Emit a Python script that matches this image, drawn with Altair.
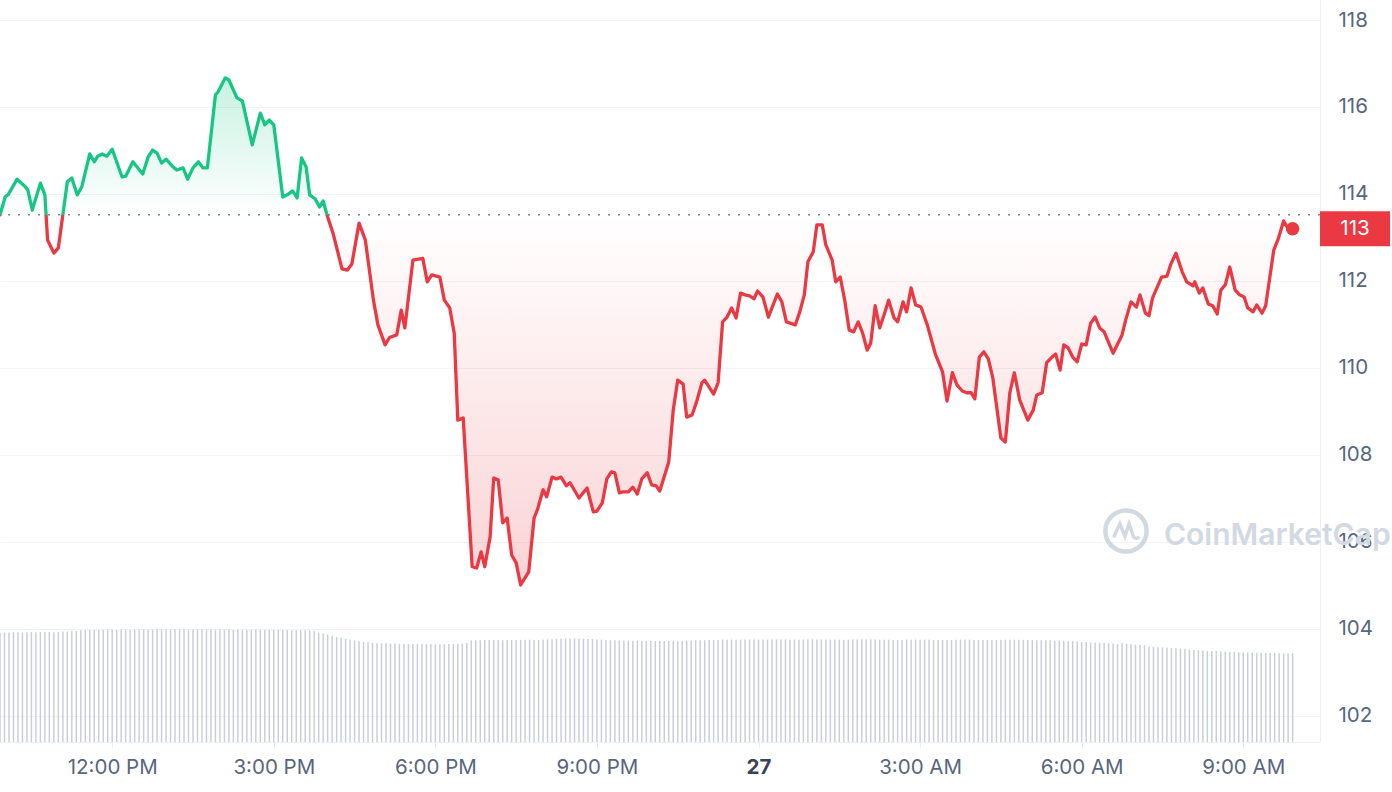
import altair as alt
import pandas as pd

# ---------------- data ----------------
# time = minutes after midnight of the 26th (595 = 9:55 AM, 1440 = midnight "27")
price_minutes = [
    595, 601, 604, 614, 623, 626, 631, 640, 645, 648, 655, 660, 670, 675, 681, 686,
    695, 700, 704, 709, 714, 720, 731, 735, 743, 754, 760, 765, 770, 775, 780, 787,
    792, 799, 804, 810, 816, 821, 826, 835, 838, 846, 850, 859, 865, 876, 885, 890,
    895, 900, 910, 915, 921, 926, 931, 936, 940, 946, 951, 955, 960, 966, 976, 982,
    987, 995, 1002, 1011, 1016, 1024, 1029, 1037, 1042, 1046, 1055, 1066, 1071, 1076,
    1085, 1090, 1096, 1101, 1105, 1111, 1121, 1126, 1131, 1135, 1141, 1145, 1150,
    1155, 1160, 1165, 1170, 1175, 1184, 1190, 1194, 1200, 1204, 1210, 1215, 1220,
    1226, 1230, 1240, 1249, 1256, 1260, 1266, 1271, 1276, 1280, 1285, 1289, 1295,
    1300, 1305, 1310, 1316, 1321, 1326, 1330, 1340, 1345, 1350, 1356, 1360, 1366,
    1371, 1377, 1380, 1385, 1390, 1395, 1400, 1405, 1410, 1415, 1420, 1425, 1430,
    1435, 1439, 1445, 1451, 1461, 1466, 1471, 1481, 1486, 1491, 1495, 1501, 1505,
    1511, 1515, 1522, 1526, 1531, 1536, 1541, 1546, 1551, 1556, 1561, 1565, 1570,
    1575, 1581, 1585, 1591, 1595, 1601, 1605, 1610, 1615, 1621, 1628, 1637, 1645,
    1650, 1656, 1661, 1667, 1672, 1677, 1681, 1686, 1691, 1696, 1701, 1710, 1715,
    1720, 1725, 1731, 1740, 1746, 1750, 1756, 1761, 1767, 1771, 1776, 1780, 1785,
    1790, 1795, 1800, 1805, 1810, 1815, 1820, 1825, 1835, 1845, 1849, 1855, 1861,
    1865, 1871, 1875, 1879, 1889, 1895, 1899, 1905, 1912, 1917, 1924, 1926, 1931,
    1935, 1941, 1946, 1951, 1955, 1960, 1965, 1971, 1976, 1981, 1985, 1991, 1995,
    2001, 2005, 2014, 2019, 2025, 2030, 2035,
]
prices = [
    113.52, 113.94, 113.98, 114.34, 114.17, 114.09, 113.63, 114.25, 113.98, 112.94, 112.64, 112.76, 114.28, 114.37, 113.98, 114.16,
    114.92, 114.74, 114.87, 114.92, 114.87, 115.03, 114.39, 114.41, 114.74, 114.46, 114.85, 115.01, 114.94, 114.71, 114.80, 114.64,
    114.55, 114.60, 114.34, 114.60, 114.74, 114.60, 114.60, 116.28, 116.35, 116.67, 116.62, 116.21, 116.14, 115.13, 115.86, 115.59,
    115.70, 115.59, 113.93, 113.98, 114.07, 113.91, 114.83, 114.62, 113.98, 113.89, 113.70, 113.84, 113.47, 113.10, 112.28, 112.25,
    112.39, 113.33, 112.94, 111.56, 110.99, 110.53, 110.70, 110.76, 111.33, 110.92, 112.48, 112.52, 111.98, 112.14,
    112.09, 111.56, 111.38, 110.80, 108.80, 108.85, 105.43, 105.40, 105.77, 105.43, 106.11, 107.47, 107.43,
    106.44, 106.55, 105.70, 105.52, 105.01, 105.31, 106.55, 106.76, 107.20, 107.04, 107.49, 107.45, 107.49,
    107.29, 107.36, 107.01, 107.24, 106.69, 106.71, 106.90, 107.45, 107.61, 107.59, 107.13, 107.15, 107.15,
    107.26, 107.10, 107.45, 107.59, 107.31, 107.29, 107.17, 107.84, 109.03, 109.72, 109.63, 108.87, 108.92,
    109.22, 109.66, 109.72, 109.56, 109.40, 109.66, 111.06, 111.17, 111.38, 111.15, 111.72, 111.68, 111.66,
    111.59, 111.77, 111.63, 111.17, 111.70, 111.52, 111.06, 110.99, 111.29, 111.68, 112.44, 112.67, 113.29,
    113.29, 112.83, 112.48, 111.98, 112.09, 111.56, 110.87, 110.83, 111.06, 110.80, 110.41, 110.57, 111.43,
    110.92, 111.29, 111.56, 111.15, 111.06, 111.52, 111.29, 111.84, 111.45, 111.40, 110.99, 110.32, 109.91,
    109.24, 109.89, 109.61, 109.47, 109.43, 109.43, 109.29, 110.25, 110.37, 110.21, 109.77, 108.39, 108.30,
    109.43, 109.89, 109.26, 108.80, 109.03, 109.38, 109.43, 110.12, 110.25, 110.32, 109.95, 110.53, 110.46,
    110.25, 110.14, 110.55, 110.53, 111.03, 111.17, 110.92, 110.83, 110.34, 110.76, 111.10, 111.52, 111.40,
    111.68, 111.26, 111.20, 111.61, 112.09, 112.11, 112.37, 112.64, 112.21, 111.98, 111.89, 111.98, 111.72,
    111.84, 111.47, 111.43, 111.24, 111.79, 111.91, 112.32, 111.79, 111.68, 111.63, 111.38, 111.29, 111.45,
    111.26, 111.43, 112.71, 112.97, 113.38, 113.20, 113.20,
]
# 5-minute volume bars (relative units), first bar at 9:55 AM
volume_start = 595
volume_step = 5
volumes = [
    4.20, 4.21, 4.21, 4.22, 4.22, 4.21, 4.22, 4.23, 4.22, 4.22, 4.23, 4.23, 4.22, 4.23, 4.24, 4.24, 4.25, 4.27,
    4.29, 4.30, 4.31, 4.31, 4.30, 4.31, 4.32, 4.31, 4.31, 4.32, 4.32, 4.31, 4.32, 4.32, 4.33, 4.32, 4.32, 4.33,
    4.33, 4.32, 4.32, 4.33, 4.33, 4.33, 4.32, 4.32, 4.33, 4.33, 4.32, 4.32, 4.32, 4.33, 4.32, 4.32, 4.31, 4.32,
    4.32, 4.31, 4.31, 4.32, 4.31, 4.31, 4.30, 4.30, 4.31, 4.30, 4.30, 4.29, 4.29, 4.30, 4.29, 4.28,
    4.25, 4.21, 4.17, 4.13,
    4.08, 4.04, 4.00, 3.96, 3.93, 3.90, 3.87, 3.85, 3.83,
    3.81, 3.80, 3.79, 3.79, 3.78, 3.78, 3.77, 3.77, 3.77, 3.76, 3.76, 3.76, 3.76, 3.75, 3.75, 3.75, 3.75, 3.76,
    3.76, 3.77, 3.78, 3.80,
    3.90, 3.91, 3.91, 3.92, 3.92, 3.92, 3.92, 3.91, 3.92, 3.92, 3.92, 3.92, 3.93, 3.93, 3.92, 3.92, 3.93, 3.94,
    3.95, 3.96,
    3.97, 3.98, 3.98, 3.98, 3.98, 3.97, 3.96, 3.95, 3.94,
    3.93, 3.92, 3.91, 3.91, 3.90, 3.90, 3.90, 3.89, 3.89, 3.89, 3.89, 3.88, 3.88, 3.88, 3.88, 3.88, 3.89, 3.89,
    3.89, 3.90, 3.90, 3.91,
    3.91, 3.91, 3.92, 3.92, 3.92, 3.93, 3.93, 3.93, 3.93, 3.93,
    3.94, 3.94, 3.94, 3.93, 3.93, 3.93, 3.94, 3.94, 3.94, 3.94,
    3.93, 3.93, 3.93, 3.93, 3.94, 3.94, 3.94, 3.94, 3.94, 3.93,
    3.93, 3.93, 3.93, 3.93, 3.94, 3.94, 3.94, 3.94, 3.94, 3.94,
    3.93, 3.93, 3.93, 3.92, 3.92, 3.92, 3.93, 3.93, 3.93, 3.93,
    3.93, 3.93, 3.92, 3.92, 3.92, 3.92, 3.92, 3.93, 3.93, 3.93,
    3.93, 3.92, 3.92, 3.92, 3.92, 3.92, 3.92, 3.92, 3.93, 3.93,
    3.93, 3.93, 3.92, 3.92, 3.92, 3.91, 3.91, 3.91, 3.91, 3.90,
    3.90, 3.89, 3.88, 3.87, 3.86, 3.85, 3.84, 3.83, 3.82, 3.81,
    3.80, 3.79, 3.78, 3.77,
    3.80, 3.78, 3.76, 3.74, 3.73, 3.72,
    3.68, 3.66, 3.64, 3.63, 3.62, 3.61, 3.60, 3.59, 3.58,
    3.55, 3.53, 3.52, 3.51, 3.50, 3.50, 3.49, 3.48, 3.47, 3.46, 3.46,
    3.45, 3.44, 3.44, 3.43, 3.43, 3.42, 3.42, 3.42, 3.42, 3.41, 3.41, 3.41, 3.41,
]
x_tick_values = [720, 900, 1080, 1260, 1440, 1620, 1800, 1980]
x_tick_labels = ["12:00 PM", "3:00 PM", "6:00 PM", "9:00 PM", "27", "3:00 AM", "6:00 AM", "9:00 AM"]
y_tick_values = [102, 104, 106, 108, 110, 112, 114, 116, 118]
watermark = "CoinMarketCap"

# ---------------- styling ----------------
GREEN = "#16c784"
RED = "#ea3943"
LABEL = "#58667e"
FONT = "Inter"
W, H = 1320, 742

base = prices[0]
pmax, pmin = max(prices), min(prices)
f = (pmax - base) / (pmax - pmin)

pdf = pd.DataFrame({"t": price_minutes, "p": prices, "base": [base] * len(prices)})
vdf = pd.DataFrame({"t": [volume_start + volume_step * i for i in range(len(volumes))], "v": volumes})
last = pdf.tail(1)

xs = alt.Scale(domain=[595, 2065.5], nice=False, zero=False)
ys = alt.Scale(domain=[101.4, 118.46], nice=False, zero=False)
vs = alt.Scale(domain=[0, 28.5], nice=False, zero=True)

label_expr = " : ".join(
    f"datum.value == {v} ? '{l}'" for v, l in zip(x_tick_values, x_tick_labels)
) + " : ''"

xaxis = alt.Axis(
    values=x_tick_values, labelExpr=label_expr, title=None, grid=False,
    domainColor="#eef0f3", tickColor="#e6e9ee", tickSize=5, labelPadding=10,
    labelFont=FONT, labelFontSize=20.5, labelColor=alt.condition("datum.value == 1440", alt.value("#3b4454"), alt.value(LABEL)),
    labelFontWeight=alt.condition("datum.value == 1440", alt.value("bold"), alt.value("normal")),
    labelFlush=False, labelOverlap=False,
)
yaxis = alt.Axis(
    orient="right", values=y_tick_values, title=None, grid=True, gridColor="#f2f3f5",
    gridWidth=1, domainColor="#eef0f3", ticks=False, tickSize=0, labelPadding=18,
    labelFont=FONT, labelFontSize=20.5, labelColor=LABEL, labelAlign="left",
    labelBaseline="middle", labelFlush=False, labelOverlap=False,
)

X = alt.X("t:Q", scale=xs, axis=xaxis)

vol = alt.Chart(vdf).mark_rule(strokeWidth=1.5, color="#c9cfda").encode(
    x=X, y=alt.Y("v:Q", scale=vs, axis=None), y2=alt.datum(0)
)

area = alt.Chart(pdf).mark_area(
    fill={
        "gradient": "linear", "x1": 0, "x2": 0, "y1": 0, "y2": 1,
        "stops": [
            {"offset": 0, "color": "rgba(22,199,132,0.24)"},
            {"offset": f, "color": "rgba(22,199,132,0.0)"},
            {"offset": f, "color": "rgba(234,57,67,0.0)"},
            {"offset": 1, "color": "rgba(234,57,67,0.22)"},
        ],
    }
).encode(x=X, y=alt.Y("p:Q", scale=ys, axis=yaxis), y2=alt.Y2("base:Q"))

baseline = alt.Chart(pd.DataFrame({"b": [base]})).mark_rule(
    color="#7f8897", strokeWidth=1.5, strokeDash=[2, 8]
).encode(y=alt.Y("b:Q", scale=ys, axis=None))

line = alt.Chart(pdf).mark_line(
    strokeWidth=3.3, strokeJoin="round", strokeCap="round",
    stroke={
        "gradient": "linear", "x1": 0, "x2": 0, "y1": 0, "y2": 1,
        "stops": [
            {"offset": 0, "color": GREEN},
            {"offset": f, "color": GREEN},
            {"offset": f, "color": RED},
            {"offset": 1, "color": RED},
        ],
    },
).encode(x=X, y=alt.Y("p:Q", scale=ys, axis=None))

dot = alt.Chart(last).mark_point(filled=True, size=180, color=RED, opacity=1).encode(
    x=X, y=alt.Y("p:Q", scale=ys, axis=None)
)

box = alt.Chart(last).mark_point(
    shape="M-1,-0.5H1V0.5H-1Z", size=4900, filled=True, color=RED, opacity=1
).encode(x=alt.value(1355), y=alt.Y("p:Q", scale=ys, axis=None))

box_text = alt.Chart(last).mark_text(
    color="white", fontSize=20.5, font=FONT, align="center", baseline="middle"
).encode(x=alt.value(1355), y=alt.Y("p:Q", scale=ys, axis=None), text=alt.Text("p:Q", format=".0f"))

wm_df = pd.DataFrame({"w": [watermark]})
wm_text = alt.Chart(wm_df).mark_text(
    color="#d3d9e2", fontSize=30, font=FONT, fontWeight=600, align="left", baseline="alphabetic"
).encode(x=alt.value(1164), y=alt.value(545), text="w:N")
wm_ring = alt.Chart(wm_df).mark_point(
    shape="circle", size=1700, filled=False, strokeWidth=4.5, color="#d3d9e2", opacity=1
).encode(x=alt.value(1126), y=alt.value(531))
wm_wave = alt.Chart(wm_df).mark_point(
    shape="M-0.6,0.3L-0.3,-0.35L-0.05,0.25L0.15,-0.35L0.35,0.25Q0.45,0.45 0.65,0.28",
    size=1700, filled=False, strokeWidth=3.5, color="#d3d9e2", opacity=1,
).encode(x=alt.value(1126), y=alt.value(531))

chart = alt.layer(
    vol, area, baseline, line, dot, wm_ring, wm_wave, wm_text, box, box_text
).resolve_scale(y="independent").properties(
    width=W, height=H,
    autosize=alt.AutoSizeParams(type="none"),
    padding={"left": 0, "top": 0, "right": 72, "bottom": 50},
    background="white",
).configure_view(stroke=None)

chart.save("out.html", embed_options={"renderer": "svg", "actions": False})
